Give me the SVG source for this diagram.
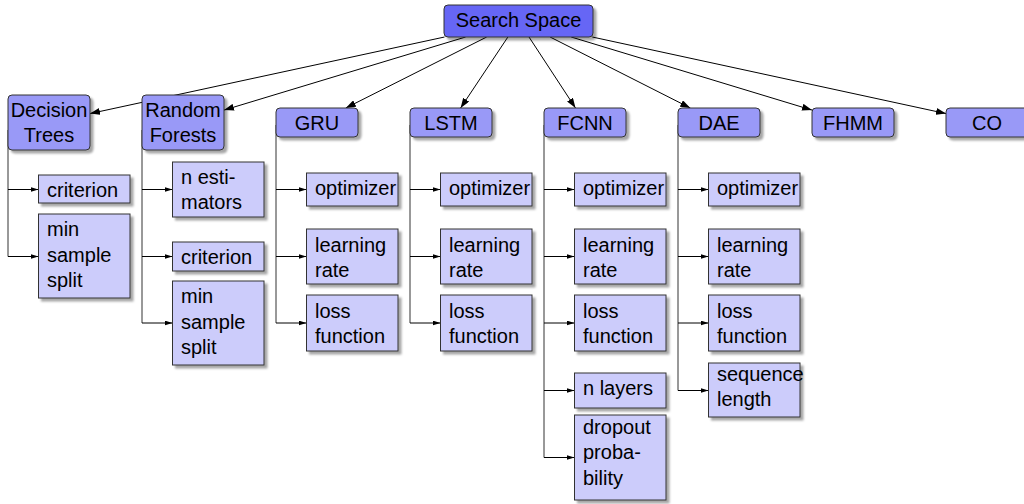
<svg xmlns="http://www.w3.org/2000/svg" width="1024" height="504" viewBox="0 0 1024 504">
<defs>
<style>
.t{font-family:"Liberation Sans",Arial,sans-serif;font-size:20px;fill:#000}
.m{text-anchor:middle}
.root{fill:#6666f5;stroke:#333;stroke-width:1}
.par{fill:#9999f7;stroke:#333;stroke-width:1}
.ch{fill:#ccccfb;stroke:#333;stroke-width:1}
.sh{filter:url(#ds)}
.e{stroke:#000;stroke-width:1;fill:none;marker-end:url(#big)}
.s{stroke:#000;stroke-width:1;fill:none;marker-end:url(#small)}
.v{stroke:#333;stroke-width:1;fill:none}
</style>
<filter id="ds" x="-20%" y="-20%" width="140%" height="160%">
<feDropShadow dx="3" dy="3" stdDeviation="1" flood-color="#000" flood-opacity="0.35"/>
</filter>
<marker id="big" markerUnits="userSpaceOnUse" viewBox="0 0 10 7" refX="10" refY="3.5" markerWidth="10" markerHeight="7" orient="auto"><path d="M0,0 L10,3.5 L0,7 Z" fill="#000"/></marker>
<marker id="small" markerUnits="userSpaceOnUse" viewBox="0 0 8 5" refX="8" refY="2.5" markerWidth="8" markerHeight="5" orient="auto"><path d="M0,0 L8,2.5 L0,5 Z" fill="#000"/></marker>
</defs>
<g id="connectors">
<line class="e" x1="444.5" y1="37" x2="90" y2="113.6"/>
<line class="e" x1="465.6" y1="37" x2="224" y2="110.1"/>
<line class="e" x1="486.7" y1="37" x2="345.8" y2="108"/>
<line class="e" x1="507.9" y1="37" x2="460.6" y2="108"/>
<line class="e" x1="529" y1="37" x2="575.5" y2="108"/>
<line class="e" x1="550.1" y1="37" x2="690.3" y2="108"/>
<line class="e" x1="571.2" y1="37" x2="812" y2="110.1"/>
<line class="e" x1="592.3" y1="37" x2="946" y2="113.6"/>
<path class="v" d="M8,130 V256.5"/>
<line class="s" x1="8" y1="189.5" x2="38.5" y2="189.5"/>
<line class="s" x1="8" y1="256.5" x2="38.5" y2="256.5"/>
<path class="v" d="M142,130 V323"/>
<line class="s" x1="142" y1="189.5" x2="172.5" y2="189.5"/>
<line class="s" x1="142" y1="256.5" x2="172.5" y2="256.5"/>
<line class="s" x1="142" y1="323" x2="172.5" y2="323"/>
<path class="v" d="M276,125 V323"/>
<line class="s" x1="276" y1="189.5" x2="306.5" y2="189.5"/>
<line class="s" x1="276" y1="256.5" x2="306.5" y2="256.5"/>
<line class="s" x1="276" y1="323" x2="306.5" y2="323"/>
<path class="v" d="M410,125 V323"/>
<line class="s" x1="410" y1="189.5" x2="440.5" y2="189.5"/>
<line class="s" x1="410" y1="256.5" x2="440.5" y2="256.5"/>
<line class="s" x1="410" y1="323" x2="440.5" y2="323"/>
<path class="v" d="M544,125 V457.5"/>
<line class="s" x1="544" y1="189.5" x2="574.5" y2="189.5"/>
<line class="s" x1="544" y1="256.5" x2="574.5" y2="256.5"/>
<line class="s" x1="544" y1="323" x2="574.5" y2="323"/>
<line class="s" x1="544" y1="390.5" x2="574.5" y2="390.5"/>
<line class="s" x1="544" y1="457.5" x2="574.5" y2="457.5"/>
<path class="v" d="M678,125 V390.5"/>
<line class="s" x1="678" y1="189.5" x2="708.5" y2="189.5"/>
<line class="s" x1="678" y1="256.5" x2="708.5" y2="256.5"/>
<line class="s" x1="678" y1="323" x2="708.5" y2="323"/>
<line class="s" x1="678" y1="390.5" x2="708.5" y2="390.5"/>
</g>
<g id="search-space"><rect class="root sh" x="444" y="5" width="149" height="32" rx="4"/><text class="t m" x="518.5" y="27.3">Search Space</text></g>
<g id="decision-trees"><rect class="par sh" x="8" y="95" width="82" height="55" rx="4"/><text class="t m" x="49" y="116.7">Decision</text><text class="t m" x="49" y="142.3">Trees</text></g>
<g id="random-forests"><rect class="par sh" x="142" y="95" width="82" height="55" rx="4"/><text class="t m" x="183" y="116.7">Random</text><text class="t m" x="183" y="142.3">Forests</text></g>
<g id="gru"><rect class="par sh" x="276" y="108" width="82" height="29" rx="4"/><text class="t m" x="317" y="129.5">GRU</text></g>
<g id="lstm"><rect class="par sh" x="410" y="108" width="82" height="29" rx="4"/><text class="t m" x="451" y="129.5">LSTM</text></g>
<g id="fcnn"><rect class="par sh" x="544" y="108" width="82" height="29" rx="4"/><text class="t m" x="585" y="129.5">FCNN</text></g>
<g id="dae"><rect class="par sh" x="678" y="108" width="82" height="29" rx="4"/><text class="t m" x="719" y="129.5">DAE</text></g>
<g id="fhmm"><rect class="par sh" x="812" y="108" width="82" height="29" rx="4"/><text class="t m" x="853" y="129.5">FHMM</text></g>
<g id="co"><rect class="par sh" x="946" y="108" width="82" height="29" rx="4"/><text class="t m" x="987" y="129.5">CO</text></g>
<g id="dt-criterion"><rect class="ch sh" x="38.5" y="175" width="91.5" height="28"/><text class="t" x="47" y="196.5">criterion</text></g>
<g id="dt-min-sample-split"><rect class="ch sh" x="38.5" y="214" width="91.5" height="84"/><text class="t" x="47" y="236">min</text><text class="t" x="47" y="261.5">sample</text><text class="t" x="47" y="286.5">split</text></g>
<g id="rf-n-estimators"><rect class="ch sh" x="172.5" y="162" width="91.5" height="55"/><text class="t" x="181" y="183.5">n esti-</text><text class="t" x="181" y="209">mators</text></g>
<g id="rf-criterion"><rect class="ch sh" x="172.5" y="242" width="91.5" height="29"/><text class="t" x="181" y="264">criterion</text></g>
<g id="rf-min-sample-split"><rect class="ch sh" x="172.5" y="281" width="91.5" height="84"/><text class="t" x="181" y="303.3">min</text><text class="t" x="181" y="328.5">sample</text><text class="t" x="181" y="353.5">split</text></g>
<g id="gru-optimizer"><rect class="ch sh" x="306.5" y="173" width="91.5" height="33"/><text class="t" x="315" y="195">optimizer</text></g>
<g id="gru-learning-rate"><rect class="ch sh" x="306.5" y="229" width="91.5" height="55"/><text class="t" x="315" y="251.7">learning</text><text class="t" x="315" y="276.7">rate</text></g>
<g id="gru-loss-function"><rect class="ch sh" x="306.5" y="295" width="91.5" height="56"/><text class="t" x="315" y="318.3">loss</text><text class="t" x="315" y="343.3">function</text></g>
<g id="lstm-optimizer"><rect class="ch sh" x="440.5" y="173" width="91.5" height="33"/><text class="t" x="449" y="195">optimizer</text></g>
<g id="lstm-learning-rate"><rect class="ch sh" x="440.5" y="229" width="91.5" height="55"/><text class="t" x="449" y="251.7">learning</text><text class="t" x="449" y="276.7">rate</text></g>
<g id="lstm-loss-function"><rect class="ch sh" x="440.5" y="295" width="91.5" height="56"/><text class="t" x="449" y="318.3">loss</text><text class="t" x="449" y="343.3">function</text></g>
<g id="fcnn-optimizer"><rect class="ch sh" x="574.5" y="173" width="91.5" height="33"/><text class="t" x="583" y="195">optimizer</text></g>
<g id="fcnn-learning-rate"><rect class="ch sh" x="574.5" y="229" width="91.5" height="55"/><text class="t" x="583" y="251.7">learning</text><text class="t" x="583" y="276.7">rate</text></g>
<g id="fcnn-loss-function"><rect class="ch sh" x="574.5" y="295" width="91.5" height="56"/><text class="t" x="583" y="318.3">loss</text><text class="t" x="583" y="343.3">function</text></g>
<g id="fcnn-n-layers"><rect class="ch sh" x="574.5" y="373" width="91.5" height="35"/><text class="t" x="583" y="395">n layers</text></g>
<g id="fcnn-dropout-probability"><rect class="ch sh" x="574.5" y="415" width="91.5" height="85"/><text class="t" x="583" y="433.5">dropout</text><text class="t" x="583" y="459">proba-</text><text class="t" x="583" y="484.5">bility</text></g>
<g id="dae-optimizer"><rect class="ch sh" x="708.5" y="173" width="91.5" height="33"/><text class="t" x="717" y="195">optimizer</text></g>
<g id="dae-learning-rate"><rect class="ch sh" x="708.5" y="229" width="91.5" height="55"/><text class="t" x="717" y="251.7">learning</text><text class="t" x="717" y="276.7">rate</text></g>
<g id="dae-loss-function"><rect class="ch sh" x="708.5" y="295" width="91.5" height="56"/><text class="t" x="717" y="318.3">loss</text><text class="t" x="717" y="343.3">function</text></g>
<g id="dae-sequence-length"><rect class="ch sh" x="708.5" y="363" width="91.5" height="54"/><text class="t" x="717" y="380.7">sequence</text><text class="t" x="717" y="405.7">length</text></g>
</svg>
